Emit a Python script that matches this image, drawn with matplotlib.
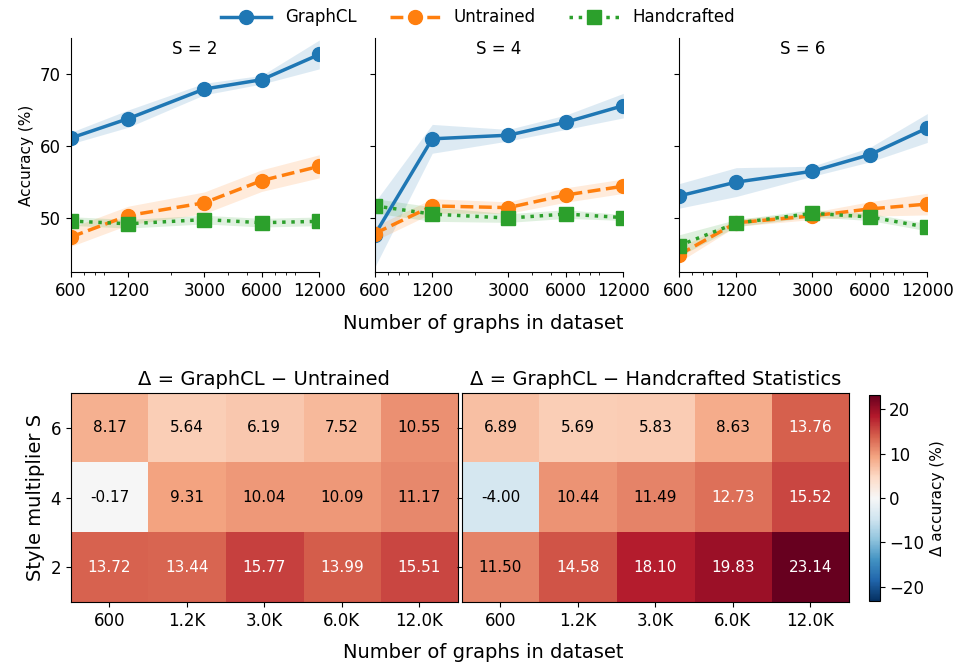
import numpy as np
import matplotlib.pyplot as plt
from matplotlib.ticker import FixedLocator, NullFormatter

# dataset sizes and style multipliers
sizes = [600, 1200, 3000, 6000, 12000]
size_labels = ['600', '1.2K', '3.0K', '6.0K', '12.0K']
styles = [2, 4, 6]

# mean accuracy (%) per style multiplier
graphcl = {
    2: [61.1, 63.8, 67.9, 69.2, 72.7],
    4: [47.7, 61.0, 61.5, 63.3, 65.6],
    6: [53.07, 55.0, 56.5, 58.8, 62.5],
}
untrained = {
    2: [47.38, 50.36, 52.13, 55.21, 57.19],
    4: [47.87, 51.69, 51.46, 53.21, 54.43],
    6: [44.9, 49.36, 50.31, 51.28, 51.95],
}
handcrafted = {
    2: [49.6, 49.22, 49.8, 49.37, 49.56],
    4: [51.7, 50.56, 50.01, 50.57, 50.08],
    6: [46.18, 49.31, 50.67, 50.17, 48.74],
}

# spread (std) for shaded bands
graphcl_std = {
    2: [0.8, 1.2, 0.8, 0.6, 2.0],
    4: [4.5, 2.0, 0.8, 1.0, 1.7],
    6: [1.7, 2.0, 0.7, 1.0, 2.0],
}
untrained_std = {
    2: [1.3, 1.3, 1.5, 1.5, 1.6],
    4: [1.0, 1.0, 0.8, 1.0, 1.0],
    6: [1.0, 0.5, 0.5, 1.0, 1.5],
}
handcrafted_std = {
    2: [0.6, 0.6, 0.6, 0.6, 0.6],
    4: [1.0, 1.0, 0.6, 0.6, 0.4],
    6: [1.5, 0.5, 0.5, 0.5, 0.5],
}

# heatmaps, rows S = 6, 4, 2 (top to bottom)
delta_untrained = [
    [8.17, 5.64, 6.19, 7.52, 10.55],
    [-0.17, 9.31, 10.04, 10.09, 11.17],
    [13.72, 13.44, 15.77, 13.99, 15.51],
]
delta_handcrafted = [
    [6.89, 5.69, 5.83, 8.63, 13.76],
    [-4.00, 10.44, 11.49, 12.73, 15.52],
    [11.50, 14.58, 18.10, 19.83, 23.14],
]
heat_rows = [6, 4, 2]

fig = plt.figure(figsize=(9.56, 6.64), dpi=100)

series = [
    ('GraphCL', graphcl, graphcl_std, '#1f77b4', '-', 'o'),
    ('Untrained', untrained, untrained_std, '#ff7f0e', '--', 'o'),
    ('Handcrafted', handcrafted, handcrafted_std, '#2ca02c', ':', 's'),
]

lefts = [0.074, 0.392, 0.710]
top_axes = []
for i, s in enumerate(styles):
    ax = fig.add_axes([lefts[i], 0.590, 0.260, 0.353])
    top_axes.append(ax)
    for name, mean, std, color, ls, mk in series:
        m = np.array(mean[s])
        sd = np.array(std[s])
        ax.fill_between(sizes, m - sd, m + sd, color=color, alpha=0.15, lw=0)
        ax.plot(sizes, m, color=color, ls=ls, marker=mk, lw=2.5, ms=10,
                label=name)
    ax.set_xscale('log')
    ax.set_xlim(600, 12000)
    ax.set_ylim(42.5, 75)
    ax.xaxis.set_major_locator(FixedLocator(sizes))
    ax.set_xticklabels([str(v) for v in sizes], fontsize=12)
    ax.xaxis.set_minor_formatter(NullFormatter())
    ax.set_yticks([50, 60, 70])
    ax.tick_params(axis='y', labelsize=12)
    if i > 0:
        ax.set_yticklabels([])
    else:
        ax.set_ylabel('Accuracy (%)', fontsize=11)
    ax.spines['top'].set_visible(False)
    ax.spines['right'].set_visible(False)
    ax.text(0.5, 0.99, f'S = {s}', transform=ax.transAxes, ha='center',
            va='top', fontsize=12)

handles, labels = top_axes[0].get_legend_handles_labels()
fig.legend(handles, labels, loc='upper center', bbox_to_anchor=(0.5, 1.01),
           ncol=3, frameon=False, fontsize=12, handlelength=3)
fig.text(0.505, 0.513, 'Number of graphs in dataset', ha='center',
         va='center', fontsize=14)

vmax = max(np.abs(delta_untrained).max(), np.abs(delta_handcrafted).max())
titles = ['Δ = GraphCL − Untrained', 'Δ = GraphCL − Handcrafted Statistics']
hm_lefts = [0.074, 0.483]
for j, data in enumerate([delta_untrained, delta_handcrafted]):
    ax = fig.add_axes([hm_lefts[j], 0.093, 0.405, 0.315])
    arr = np.array(data)
    im = ax.imshow(arr, cmap='RdBu_r', vmin=-vmax, vmax=vmax, aspect='auto')
    for r in range(arr.shape[0]):
        for c in range(arr.shape[1]):
            v = arr[r, c]
            col = 'white' if abs(v) > 0.5 * vmax else 'black'
            ax.text(c, r, f'{v:.2f}', ha='center', va='center', fontsize=11,
                    color=col)
    ax.set_xticks(range(len(size_labels)))
    ax.set_xticklabels(size_labels, fontsize=12)
    ax.set_yticks(range(len(heat_rows)))
    if j == 0:
        ax.set_yticklabels([str(v) for v in heat_rows], fontsize=12)
        ax.set_ylabel('Style multiplier S', fontsize=14)
    else:
        ax.set_yticklabels([])
    ax.set_title(titles[j], fontsize=14, pad=6)

cax = fig.add_axes([0.909, 0.095, 0.011, 0.31])
cb = fig.colorbar(im, cax=cax)
cb.set_ticks([-20, -10, 0, 10, 20])
cb.ax.tick_params(labelsize=12)
cb.set_label('Δ accuracy (%)', fontsize=11)
fig.text(0.505, 0.018, 'Number of graphs in dataset', ha='center',
         va='center', fontsize=14)

fig.savefig('out.png', dpi=100)
